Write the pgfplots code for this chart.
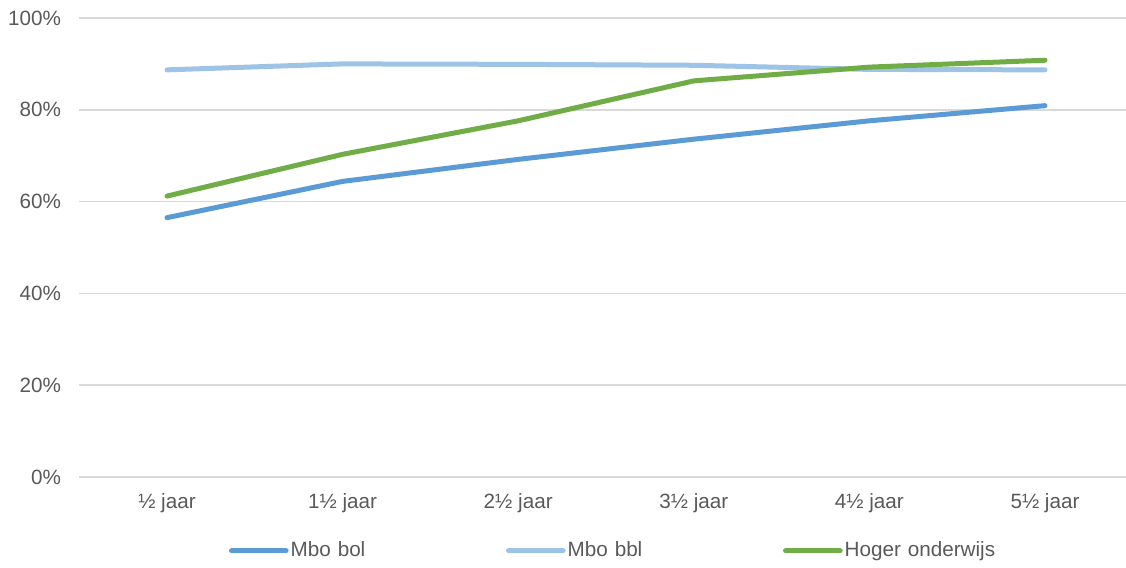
\documentclass[border=0pt]{standalone}
\usepackage{fontspec}
\setmainfont{Liberation Sans}
\usepackage{pgfplots}
\pgfplotsset{compat=1.18}
\definecolor{bol}{HTML}{5B9BD5}
\definecolor{bbl}{HTML}{9DC3E6}
\definecolor{ho}{HTML}{70AD47}
\definecolor{gridc}{HTML}{D9D9D9}
\definecolor{txt}{HTML}{595959}
\begin{document}
\fontsize{15.5pt}{18pt}\selectfont
\begin{tikzpicture}
\path[use as bounding box] (0,0) rectangle (844.5pt,425.25pt);
\begin{axis}[
  at={(59.4pt,67.5pt)}, anchor=south west,
  scale only axis, width=790.2pt, height=344.25pt,
  xmin=-0.5, xmax=5.5, ymin=0, ymax=100,
  xtick={0,1,2,3,4,5},
  xticklabels={½ jaar,1½ jaar,2½ jaar,3½ jaar,4½ jaar,5½ jaar},
  ytick={0,20,40,60,80,100},
  yticklabel={\pgfmathprintnumber{\tick}\%},
  /pgf/number format/assume math mode=true,
  ymajorgrids, grid style={gridc, line width=1.1pt},
  major tick length=0pt,
  axis line style={draw=none},
  tick label style={text=txt, font=\fontsize{15.5pt}{18pt}\selectfont},
  yticklabel style={anchor=east, inner sep=0pt, xshift=-13.5pt},
  xticklabel style={anchor=north, inner sep=0pt, yshift=-12pt},
  legend columns=3,
  legend style={draw=none, fill=none, inner sep=0pt, outer sep=0pt,
    at={(axis description cs:0.1422,-0.161)}, anchor=west,
    font=\fontsize{15.5pt}{18pt}\selectfont, text=txt,
    nodes={inner sep=1.5pt, text width=160pt, align=left}},
  legend image code/.code={\draw[#1, line cap=round] (0pt,0pt) -- (41pt,0pt);},
  every axis plot/.append style={line width=3.75pt, line cap=round, line join=round},
]
\addplot[bol] coordinates {(0,56.5) (1,64.4) (2,69.2) (3,73.6) (4,77.6) (5,80.9)};
\addlegendentry{Mbo bol}
\addplot[bbl] coordinates {(0,88.7) (1,90.0) (2,89.9) (3,89.7) (4,88.8) (5,88.7)};
\addlegendentry{Mbo bbl}
\addplot[ho] coordinates {(0,61.2) (1,70.3) (2,77.6) (3,86.3) (4,89.3) (5,90.8)};
\addlegendentry{Hoger onderwijs}
\end{axis}
\end{tikzpicture}
\end{document}
